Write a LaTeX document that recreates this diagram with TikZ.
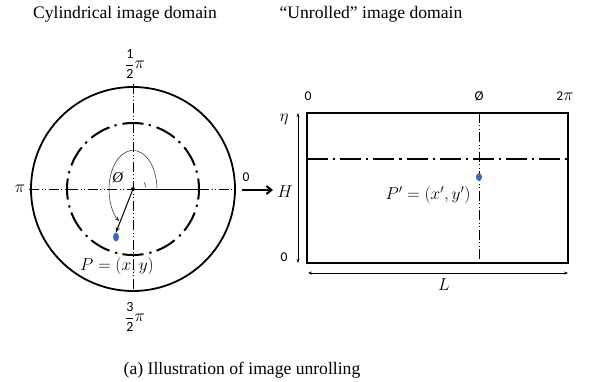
\documentclass[tikz,border=0pt]{standalone}
\usepackage{amsmath}
\usepackage{fontspec}
\setmainfont{Liberation Serif}
\setsansfont{Carlito}
\usepackage{tikz}
\usetikzlibrary{positioning, shapes.geometric, arrows.meta}
\definecolor{dotblue}{HTML}{3A6DB5}

\begin{document}
\begin{tikzpicture}[
    x=1pt, y=-1pt,
    title/.style={font=\fontsize{17.6}{20}\selectfont, inner sep=0pt},
    lbl/.style={font=\sffamily\fontsize{13.5}{15}\selectfont, inner sep=0pt},
    mlbl/.style={font=\fontsize{17}{19}\selectfont, inner sep=0pt},
    frac/.style={font=\fontsize{14}{16}\selectfont, inner sep=0pt},
    rim/.style={line width=1.8pt},
    ring/.style={line width=2pt, dash pattern=on 21pt off 5.3pt on 2.2pt off 6.06pt, dash phase=10.5pt},
    dashdot/.style={line width=2pt, dash pattern=on 21pt off 5pt on 2.2pt off 5pt},
    axis/.style={line width=0.7pt, dash pattern=on 10pt off 2.5pt on 1pt off 2.5pt on 1pt off 2.5pt},
    arcarrow/.style={-{Stealth[length=5pt, width=4pt]}, line width=0.6pt, black!75},
    radarrow/.style={-{Stealth[length=5pt, width=4pt]}, line width=1pt},
    bigarrow/.style={-{Straight Barb[length=5pt, width=8pt]}, line width=2pt},
    dim/.style={{Stealth[length=4pt, width=3pt]}-{Stealth[length=4pt, width=3pt]}, line width=0.6pt},
    pt/.style={ellipse, fill=dotblue, minimum width=6pt, minimum height=9pt, inner sep=0pt}
]
    \useasboundingbox (0,0) rectangle (592,382);

    % titles
    \node[title] (tcyl) at (125,14) {Cylindrical image domain};
    \node[title] (tunr) at (371,14) {“Unrolled” image domain};
    \node[title] (cap) at (242,370) {(a) Illustration of image unrolling};

    % cylindrical domain
    \coordinate (o) at (133,189);
    \coordinate (atop) at (133,84);
    \coordinate (abot) at (133,294);
    \coordinate (alft) at (29,189);
    \coordinate (argt) at (235,189);
    \coordinate (irgt) at (199,189);
    \draw[rim] (o) circle[radius=102];
    \draw[ring] (o) circle[radius=66];
    \draw[axis] (atop) -- (abot);
    \draw[axis] (alft) -- (o);
    \draw[axis] (irgt) -- (argt);
    \draw[line width=0.9pt] (o) -- (irgt);
    \fill (o) circle[radius=2];

    \node[pt] (p) at (116,237) {};
    \draw[radarrow] (o) -- (p.north);
    \draw[arcarrow] ([yshift=1pt, xshift=24pt]o) arc[start angle=-2, end angle=-235, x radius=24, y radius=39];
    \draw[line width=0.6pt, black!75] ([shift={(-8:13)}]o) arc[start angle=-8, end angle=-32, radius=13];

    \node[frac] (fhalf) at (135,64) {$\dfrac{\textsf{1}}{\textsf{2}}$\fontsize{17}{19}\selectfont$\pi$};
    \node[frac] (fthree) at (135,317) {$\dfrac{\textsf{3}}{\textsf{2}}$\fontsize{17}{19}\selectfont$\pi$};
    \node[mlbl] (lpi) at (20,189) {$\pi$};
    \node[lbl] (lzero) at (246,177) {0};
    \node[mlbl] (phic) at (118,178) {\fontsize{15}{18}\selectfont\textit{Ø}};
    \node[mlbl] (plab) at (117,266) {$P=(x,y)$};

    % unrolled domain
    \coordinate (rtl) at (307,113);
    \coordinate (rbr) at (568,263);
    \coordinate (mlft) at (307,159);
    \coordinate (mrgt) at (568,159);
    \coordinate (vtop) at (479,113);
    \coordinate (vbot) at (479,263);
    \draw[axis] (vtop) -- (vbot);
    \draw[dashdot] (mlft) -- (mrgt);
    \draw[rim] (rtl) rectangle (rbr);
    \node[pt, minimum height=8pt] (q) at (479,177) {};
    \node[mlbl] (qlab) at (428,195) {$P'=(x',y')$};

    \node[lbl] (rzero) at (308,96) {0};
    \node[lbl] (rphi) at (479,96) {Ø};
    \node[lbl] (rtwopi) at (565,96) {2\fontsize{17}{19}\selectfont$\pi$};
    \node[mlbl] (leta) at (284,119) {$\eta$};
    \node[lbl] (lbzero) at (284,257) {0};
    \node[mlbl] (lh) at (285,192) {$H$};
    \node[mlbl] (ll) at (444,285) {$L$};

    \coordinate (htop) at (298,113);
    \coordinate (hbot) at (298,263);
    \coordinate (lbl0) at (308,273);
    \coordinate (lbr0) at (568,273);
    \draw[dim] (htop) -- (hbot);
    \draw[dim] (lbl0) -- (lbr0);

    % unrolling arrow
    \coordinate (ustart) at (242,190);
    \coordinate (uend) at (273,190);
    \draw[bigarrow] (ustart) -- (uend);
\end{tikzpicture}
\end{document}
